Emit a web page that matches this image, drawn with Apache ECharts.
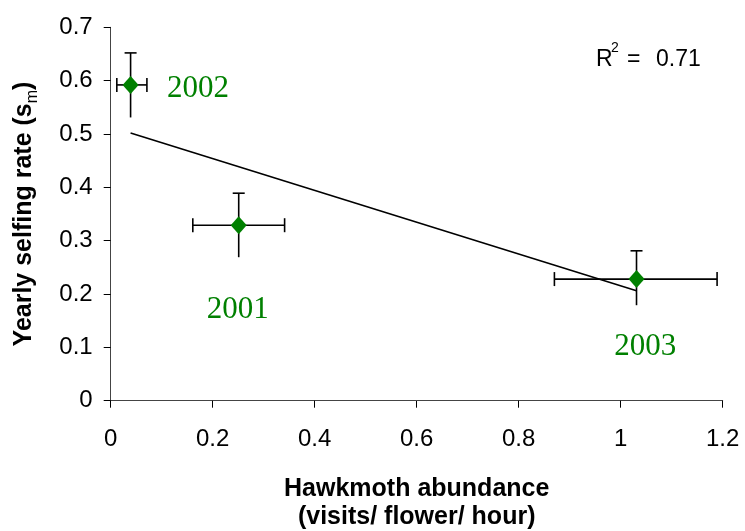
<!DOCTYPE html>
<html>
<head>
<meta charset="utf-8">
<script src="https://cdn.jsdelivr.net/npm/echarts@6/dist/echarts.min.js"></script>
<style>
html,body{margin:0;padding:0;background:#fff;}
#chart{width:745px;height:531px;}
</style>
</head>
<body>
<div id="chart"></div>
<script>
// ---- data ----
const years = ['2002', '2001', '2003'];
const abundance = [0.039, 0.251, 1.031];      // x (visits/flower/hour)
const selfing = [0.592, 0.329, 0.228];        // y (yearly selfing rate)
const abundanceLow = [0.012, 0.161, 0.870];
const abundanceHigh = [0.071, 0.341, 1.189];
const selfingLow = [0.531, 0.269, 0.179];
const selfingHigh = [0.652, 0.389, 0.281];
const trendX = [0.039, 1.031];
const trendY = [0.502, 0.206];
const labelX = [0.171, 0.249, 1.048];
const labelY = [0.584, 0.170, 0.100];
const rSquared = '0.71';

const chart = echarts.init(document.getElementById('chart'));
const green = '#008000';
const sans = 'Liberation Sans, Arial, sans-serif';

const errData = abundance.map((x, i) => [x, selfing[i], abundanceLow[i], abundanceHigh[i], selfingLow[i], selfingHigh[i]]);

chart.setOption({
  backgroundColor: '#fff',
  animation: false,
  grid: {left: 110.7, right: 22.3, top: 27.3, bottom: 130.3, containLabel: false, outerBoundsMode: 'none'},
  xAxis: {
    type: 'value', min: 0, max: 1.2, interval: 0.2,
    name: 'Hawkmoth abundance\n(visits/ flower/ hour)',
    nameLocation: 'middle', nameGap: 74,
    nameTextStyle: {fontFamily: sans, fontSize: 25, fontWeight: 'bold', color: '#000', lineHeight: 28},
    axisLine: {lineStyle: {color: '#444', width: 1}},
    axisTick: {show: true, length: 7, lineStyle: {color: '#000'}},
    axisLabel: {fontFamily: sans, fontSize: 24, color: '#000', margin: 27},
    splitLine: {show: false}
  },
  yAxis: {
    type: 'value', min: 0, max: 0.7, interval: 0.1,
    name: 'Yearly selfing rate (s{sub|m})',
    nameLocation: 'middle', nameGap: 74,
    nameTextStyle: {
      fontFamily: sans, fontSize: 25, fontWeight: 'bold', color: '#000',
      rich: {sub: {fontFamily: sans, fontSize: 16, fontWeight: 'normal', color: '#000', verticalAlign: 'bottom', padding: [0, 0, -4, 0]}}
    },
    axisLine: {lineStyle: {color: '#444', width: 1}},
    axisTick: {show: true, length: 7, lineStyle: {color: '#000'}},
    axisLabel: {fontFamily: sans, fontSize: 24, color: '#000', margin: 18},
    splitLine: {show: false}
  },
  series: [
    {
      type: 'line',
      data: trendX.map((x, i) => [x, trendY[i]]),
      symbol: 'none',
      lineStyle: {color: '#000', width: 1.6},
      z: 2
    },
    {
      type: 'custom',
      data: errData,
      encode: {x: [0, 2, 3], y: [1, 4, 5]},
      clip: false,
      z: 3,
      renderItem: function (params, api) {
        const l = api.coord([api.value(2), api.value(1)]);
        const r = api.coord([api.value(3), api.value(1)]);
        const b = api.coord([api.value(0), api.value(4)]);
        const t = api.coord([api.value(0), api.value(5)]);
        const cw = 6, ch = 7;
        const st = {stroke: '#000', lineWidth: 1.6};
        const ln = (x1, y1, x2, y2) => ({type: 'line', shape: {x1, y1, x2, y2}, style: st});
        return {
          type: 'group',
          children: [
            ln(l[0], l[1], r[0], r[1]),
            ln(l[0], l[1] - ch, l[0], l[1] + ch),
            ln(r[0], r[1] - ch, r[0], r[1] + ch),
            ln(b[0], b[1], t[0], t[1]),
            ln(t[0] - cw, t[1], t[0] + cw, t[1])
          ]
        };
      }
    },
    {
      type: 'scatter',
      data: abundance.map((x, i) => [x, selfing[i]]),
      symbol: 'diamond',
      symbolSize: [16, 18],
      itemStyle: {color: green, opacity: 1},
      z: 5
    },
    {
      type: 'scatter',
      data: labelX.map((x, i) => ({value: [x, labelY[i]], name: years[i]})),
      symbolSize: 0,
      silent: true,
      itemStyle: {color: green, opacity: 1},
      label: {
        show: true, position: 'inside', formatter: '{b}',
        fontFamily: 'Liberation Serif, Times New Roman, serif', fontSize: 31, color: green
      },
      z: 6
    }
  ],
  graphic: [
    {type: 'text', left: 596, top: 48, style: {text: 'R', fontFamily: sans, fontSize: 23, fill: '#000'}},
    {type: 'text', left: 611, top: 41, style: {text: '2', fontFamily: sans, fontSize: 14, fill: '#000'}},
    {type: 'text', left: 627, top: 48, style: {text: '=', fontFamily: sans, fontSize: 23, fill: '#000'}},
    {type: 'text', left: 656, top: 48, style: {text: rSquared, fontFamily: sans, fontSize: 23, fill: '#000'}}
  ]
});
</script>
</body>
</html>
